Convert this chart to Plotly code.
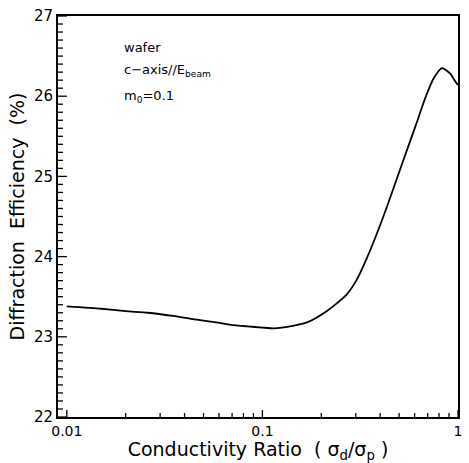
import plotly.graph_objects as go
import math

# Data
ratio = [0.01, 0.015, 0.02, 0.026, 0.035, 0.047, 0.058, 0.069, 0.084, 0.1, 0.115, 0.134,
         0.169, 0.213, 0.268, 0.302, 0.339, 0.381, 0.43, 0.52, 0.607, 0.681, 0.75,
         0.828, 0.912, 0.977, 1.0]
efficiency = [23.38, 23.35, 23.32, 23.30, 23.26, 23.21, 23.18, 23.15, 23.13, 23.115, 23.106, 23.125,
              23.18, 23.32, 23.52, 23.70, 23.96, 24.26, 24.60, 25.17, 25.63, 25.98, 26.22,
              26.35, 26.28, 26.17, 26.14]

x_major = [0.01, 0.1, 1]
x_major_text = ["0.01", "0.1", "1"]
x_minor = [m * d for d in (0.01, 0.1) for m in range(2, 10)]
y_ticks = [22, 23, 24, 25, 26, 27]
y_minor = [round(22 + i * 0.1, 1) for i in range(51) if i % 10 != 0]

FONT = "DejaVu Sans"
L, R, T, B, W, H = 58, 7, 12, 46, 469, 463
xr = [math.log10(0.01) - 0.045, 0]
yr = [22, 27]
px_per_dec = (W - L - R) / (xr[1] - xr[0])
px_per_unit = (H - T - B) / (yr[1] - yr[0])

fig = go.Figure()
fig.add_trace(go.Scatter(x=ratio, y=efficiency, mode="lines",
                         line=dict(color="black", width=1.8, shape="spline", smoothing=0.6),
                         showlegend=False, hoverinfo="skip"))

# inward tick marks, placed on the axes' own scales
tx, ty = [], []
for v in x_major + x_minor:
    ln = (7 if v in x_major else 4) / px_per_unit
    tx += [v, v, None]
    ty += [yr[0], yr[0] + ln, None]
x_left = 10 ** xr[0]
for v in y_ticks + y_minor:
    ln = (9 if v in y_ticks else 5) / px_per_dec
    tx += [x_left, x_left * 10 ** ln, None]
    ty += [v, v, None]
fig.add_trace(go.Scatter(x=tx, y=ty, mode="lines", connectgaps=False,
                         line=dict(color="black", width=1.3),
                         showlegend=False, hoverinfo="skip"))

fig.update_layout(
    width=W, height=H,
    margin=dict(l=L, r=R, t=T, b=B),
    paper_bgcolor="white", plot_bgcolor="white",
    font=dict(family=FONT, color="black", size=14),
    xaxis=dict(type="log", range=xr, tickvals=x_major, ticktext=x_major_text,
               ticks="", showline=True, linecolor="black", linewidth=2, mirror=True,
               showgrid=False, zeroline=False,
               tickfont=dict(family=FONT, size=14),
               title=dict(text="Conductivity Ratio  ( σ<sub>d</sub>/σ<sub>p</sub> )",
                          font=dict(family=FONT, size=19), standoff=0)),
    yaxis=dict(range=yr, tickvals=y_ticks,
               ticks="", showline=True, linecolor="black", linewidth=2, mirror=True,
               showgrid=False, zeroline=False,
               tickfont=dict(family=FONT, size=15),
               title=dict(text="Diffraction  Efficiency  (%)",
                          font=dict(family=FONT, size=19), standoff=4)),
    annotations=[
        dict(text="wafer", x=0.161, y=0.922, xref="paper", yref="paper",
             xanchor="left", yanchor="middle", showarrow=False, font=dict(size=13)),
        dict(text="c−axis//E<sub>beam</sub>", x=0.161, y=0.864, xref="paper", yref="paper",
             xanchor="left", yanchor="middle", showarrow=False, font=dict(size=13)),
        dict(text="m<sub>0</sub>=0.1", x=0.161, y=0.800, xref="paper", yref="paper",
             xanchor="left", yanchor="middle", showarrow=False, font=dict(size=13)),
    ],
)

fig.write_html("out.html", config={"displayModeBar": False},
               post_script="document.body.style.margin='0px';")
